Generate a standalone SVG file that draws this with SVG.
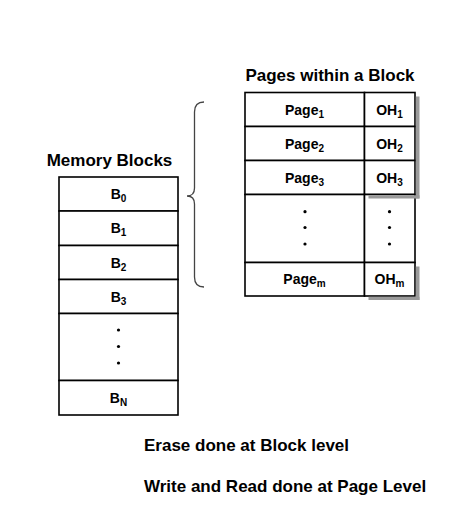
<svg xmlns="http://www.w3.org/2000/svg" width="474" height="508" viewBox="0 0 474 508">
<style>
.t{font-family:"Liberation Sans",Arial,sans-serif;font-weight:bold;fill:#000}
.title{font-size:17px}
.lbl{font-size:14px;text-anchor:middle}
.sub{font-size:10px}
.cell{fill:#fff;stroke:#000;stroke-width:1.6}
.sh{fill:#9a9a9a}
.dot{fill:#000}
</style>
<rect width="474" height="508" fill="#fff"/>
<g id="memory-blocks">
<text class="t title" x="109.5" y="166" text-anchor="middle">Memory Blocks</text>
<rect class="cell" x="59" y="177" width="119" height="34"/>
<rect class="cell" x="59" y="211" width="119" height="34.5"/>
<rect class="cell" x="59" y="245.5" width="119" height="34"/>
<rect class="cell" x="59" y="279.5" width="119" height="34"/>
<rect class="cell" x="59" y="313.5" width="119" height="67"/>
<rect class="cell" x="59" y="380.5" width="119" height="34.5"/>
<text class="t lbl" x="118.5" y="199">B<tspan class="sub" dy="3">0</tspan></text>
<text class="t lbl" x="118.5" y="233">B<tspan class="sub" dy="3">1</tspan></text>
<text class="t lbl" x="118.5" y="267.5">B<tspan class="sub" dy="3">2</tspan></text>
<text class="t lbl" x="118.5" y="301.5">B<tspan class="sub" dy="3">3</tspan></text>
<circle class="dot" cx="118.5" cy="330" r="1.6"/>
<circle class="dot" cx="118.5" cy="346.5" r="1.6"/>
<circle class="dot" cx="118.5" cy="363" r="1.6"/>
<text class="t lbl" x="118.5" y="403">B<tspan class="sub" dy="3">N</tspan></text>
</g>
<g id="pages-within-block">
<text class="t title" x="330" y="81" text-anchor="middle">Pages within a Block</text>
<rect class="cell" x="245" y="92.5" width="119.5" height="34"/>
<rect class="cell" x="364.5" y="92.5" width="50.5" height="34"/>
<rect class="cell" x="245" y="126.5" width="119.5" height="34"/>
<rect class="cell" x="364.5" y="126.5" width="50.5" height="34"/>
<rect class="cell" x="245" y="160.5" width="119.5" height="34"/>
<rect class="cell" x="364.5" y="160.5" width="50.5" height="34"/>
<rect class="cell" x="245" y="194.5" width="119.5" height="68"/>
<rect class="cell" x="364.5" y="194.5" width="50.5" height="68"/>
<rect class="cell" x="245" y="262.5" width="119.5" height="33.5"/>
<rect class="cell" x="364.5" y="262.5" width="50.5" height="33.5"/>
<rect class="sh" x="415.8" y="96.5" width="3.7" height="102"/>
<rect class="sh" x="368.5" y="195.3" width="51" height="3.2"/>
<rect class="sh" x="415.8" y="266.5" width="3.7" height="33.5"/>
<rect class="sh" x="368.5" y="296.8" width="51" height="3.2"/>
<text class="t lbl" x="304.5" y="114.5">Page<tspan class="sub" dy="3">1</tspan></text>
<text class="t lbl" x="389.5" y="114.5">OH<tspan class="sub" dy="3">1</tspan></text>
<text class="t lbl" x="304.5" y="148.5">Page<tspan class="sub" dy="3">2</tspan></text>
<text class="t lbl" x="389.5" y="148.5">OH<tspan class="sub" dy="3">2</tspan></text>
<text class="t lbl" x="304.5" y="182.5">Page<tspan class="sub" dy="3">3</tspan></text>
<text class="t lbl" x="389.5" y="182.5">OH<tspan class="sub" dy="3">3</tspan></text>
<circle class="dot" cx="305" cy="211.7" r="1.6"/>
<circle class="dot" cx="305" cy="227.5" r="1.6"/>
<circle class="dot" cx="305" cy="244" r="1.6"/>
<circle class="dot" cx="389.5" cy="211.7" r="1.6"/>
<circle class="dot" cx="389.5" cy="227.5" r="1.6"/>
<circle class="dot" cx="389.5" cy="244" r="1.6"/>
<text class="t lbl" x="304.5" y="284">Page<tspan class="sub" dy="3">m</tspan></text>
<text class="t lbl" x="389.5" y="284">OH<tspan class="sub" dy="3">m</tspan></text>
</g>
<g id="connectors">
<path d="M204,102 Q194.5,102 194.5,112 L194.5,188 Q194.5,196 187,196 Q194.5,196 194.5,204 L194.5,277 Q194.5,287 204,287" fill="none" stroke="#444" stroke-width="1.3"/>
</g>
<g id="notes">
<text class="t title" x="144" y="451">Erase done at Block level</text>
<text class="t title" x="144" y="492">Write and Read done at Page Level</text>
</g>
</svg>
